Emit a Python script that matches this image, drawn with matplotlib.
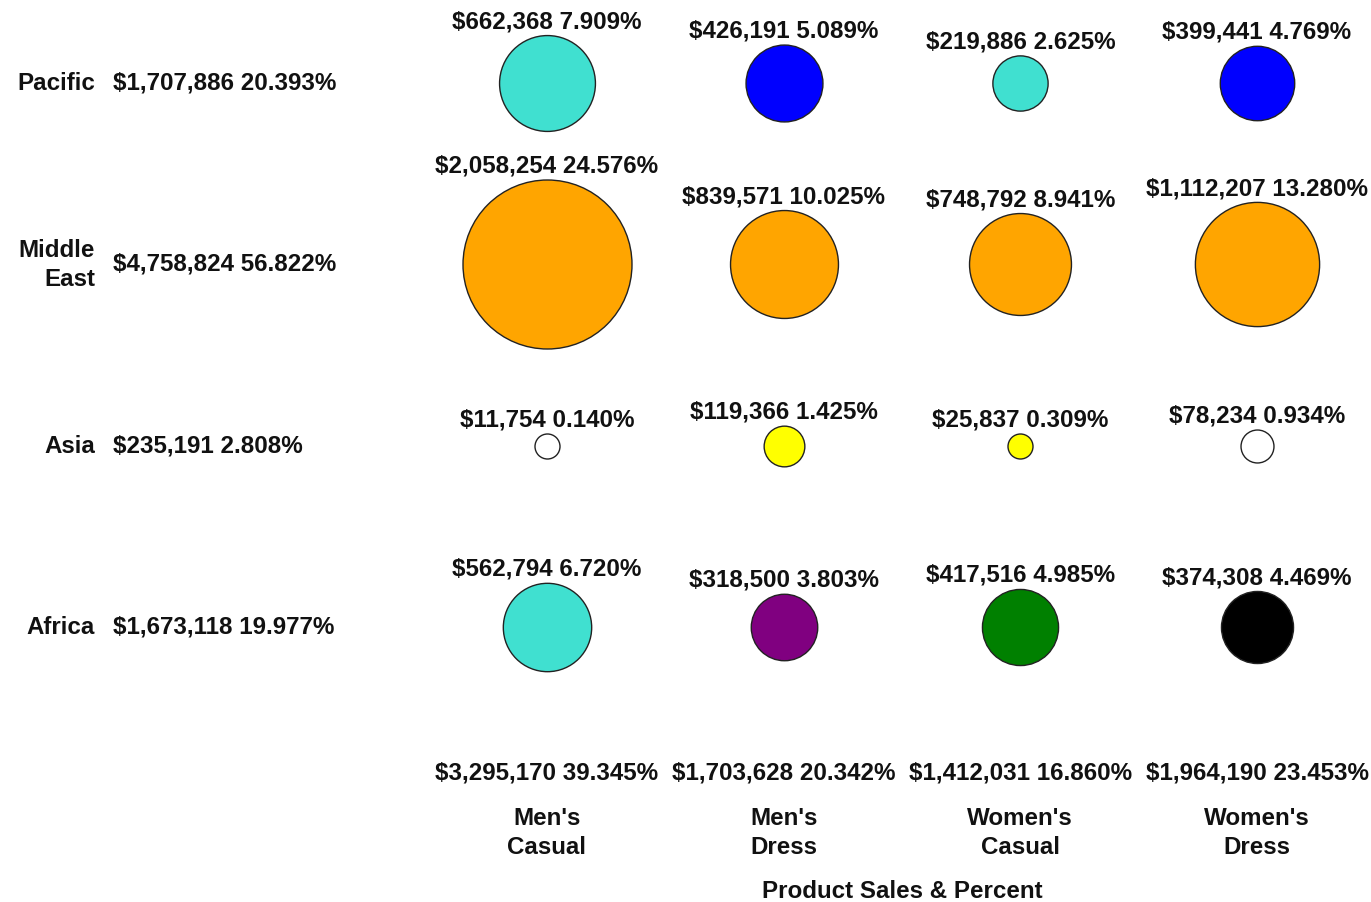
import matplotlib
matplotlib.use("Agg")
import matplotlib.pyplot as plt
import matplotlib.transforms as mtransforms
import numpy as np

plt.rcParams['font.family'] = ['Liberation Sans', 'DejaVu Sans']
plt.rcParams['font.weight'] = 'bold'

# --- data -------------------------------------------------------------
products = ["Men's\nCasual", "Men's\nDress", "Women's\nCasual", "Women's\nDress"]
regions = ["Pacific", "Middle\nEast", "Asia", "Africa"]

sales_pacific = [662368, 426191, 219886, 399441]
sales_middle_east = [2058254, 839571, 748792, 1112207]
sales_asia = [11754, 119366, 25837, 78234]
sales_africa = [562794, 318500, 417516, 374308]

pct_pacific = [7.909, 5.089, 2.625, 4.769]
pct_middle_east = [24.576, 10.025, 8.941, 13.280]
pct_asia = [0.140, 1.425, 0.309, 0.934]
pct_africa = [6.720, 3.803, 4.985, 4.469]

region_sales = [1707886, 4758824, 235191, 1673118]
region_pct = [20.393, 56.822, 2.808, 19.977]
product_sales = [3295170, 1703628, 1412031, 1964190]
product_pct = [39.345, 20.342, 16.860, 23.453]

colors_pacific = ["#40E0D0", "#0000FF", "#40E0D0", "#0000FF"]
colors_middle_east = ["#FFA500", "#FFA500", "#FFA500", "#FFA500"]
colors_asia = ["#FFFFFF", "#FFFF00", "#FFFF00", "#FFFFFF"]
colors_africa = ["#40E0D0", "#800080", "#008000", "#000000"]

sales = [sales_pacific, sales_middle_east, sales_asia, sales_africa]
pcts = [pct_pacific, pct_middle_east, pct_asia, pct_africa]
colors = [colors_pacific, colors_middle_east, colors_asia, colors_africa]

# --- figure -----------------------------------------------------------
W, H, DPI = 1371, 902, 100
fig = plt.figure(figsize=(W / DPI, H / DPI), dpi=DPI)
ax = fig.add_axes([0, 0, 1, 1])
ax.set_axis_off()

col_px = 236.67      # horizontal spacing between product columns
row_px = 181.33      # vertical spacing between region rows
x0_px, y0_px = 547, 83
ax.set_xlim(-x0_px / col_px, (W - x0_px) / col_px)
ax.set_ylim((H - y0_px) / row_px, -y0_px / row_px)

FS = 17.4
LS = 1.32
TXT = "#111111"
max_sale = max(max(r) for r in sales)
max_diam_px = 169
min_diam_px = 25
px2pt = 72.0 / DPI

for ri, row in enumerate(sales):
    for ci, v in enumerate(row):
        d_px = max(max_diam_px * np.sqrt(v / max_sale), min_diam_px)
        d_pt = d_px * px2pt
        ax.scatter([ci], [ri], s=d_pt ** 2, c=colors[ri][ci],
                   edgecolors="#222222", linewidths=1.0, zorder=3)
        ax.annotate(f"${v:,} {pcts[ri][ci]:.3f}%", xy=(ci, ri),
                    xytext=(0, d_pt / 2 + 5.0), textcoords="offset points",
                    ha="center", va="baseline", fontsize=FS,
                    fontweight="bold", color=TXT)

# region labels and totals on the left
ytrans = mtransforms.blended_transform_factory(fig.transFigure, ax.transData)
for ri, name in enumerate(regions):
    ax.text(95 / W, ri + 0.005, name, transform=ytrans, ha="right",
            va="center", multialignment="right", fontsize=FS,
            fontweight="bold", linespacing=LS, color=TXT)
    ax.text(113 / W, ri, f"${region_sales[ri]:,} {region_pct[ri]:.3f}%",
            transform=ytrans, ha="left", va="center", fontsize=FS,
            fontweight="bold", color=TXT)

# product totals and labels along the bottom
xtrans = mtransforms.blended_transform_factory(ax.transData, fig.transFigure)
for ci, name in enumerate(products):
    ax.text(ci, 1 - 773 / H, f"${product_sales[ci]:,} {product_pct[ci]:.3f}%",
            transform=xtrans, ha="center", va="center", fontsize=FS,
            fontweight="bold", color=TXT)
    ax.text(ci, 1 - 833 / H, name, transform=xtrans, ha="center",
            va="center", fontsize=FS, fontweight="bold", linespacing=LS,
            color=TXT)

fig.text(902 / W, 1 - 891 / H, "Product Sales & Percent", ha="center",
         va="center", fontsize=FS, fontweight="bold", color=TXT)

fig.savefig("out.png", dpi=DPI, facecolor="white")
